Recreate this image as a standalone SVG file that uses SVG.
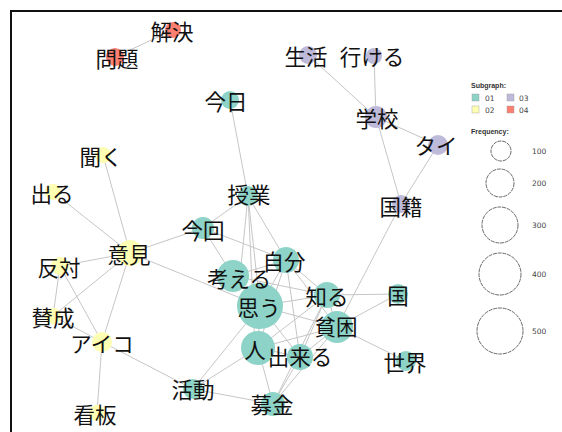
<svg xmlns="http://www.w3.org/2000/svg" width="562" height="432" viewBox="0 0 562 432">
<style>
.e{stroke:#c6c6c6;stroke-width:1;fill:none}
.c1{fill:#8DD3C7}.c2{fill:#FFFFB3}.c3{fill:#BEBADA}.c4{fill:#FB8072}
.t{font-family:"Noto Sans CJK JP","Noto Sans CJK SC",sans-serif;font-size:21.5px;fill:#111;text-anchor:middle;dominant-baseline:central}
.lh{font-family:"Liberation Sans",Arial,sans-serif;font-size:7px;font-weight:bold;fill:#333}
.lt{font-family:"DejaVu Sans",sans-serif;font-size:7.5px;fill:#444}
.lc{fill:none;stroke:#444;stroke-width:0.8;stroke-dasharray:4 0.8}
</style>
<rect x="11" y="11" width="560" height="430" fill="#fff" stroke="#111" stroke-width="2"/>
<g id="edges" class="e">
<line x1="115" y1="57" x2="173" y2="30"/>
<line x1="308" y1="55" x2="376" y2="117"/>
<line x1="374" y1="56" x2="376" y2="117"/>
<line x1="376" y1="117" x2="438" y2="145"/>
<line x1="376" y1="117" x2="401" y2="204"/>
<line x1="438" y1="145" x2="401" y2="204"/>
<line x1="401" y1="204" x2="337" y2="327"/>
<line x1="230" y1="100" x2="248" y2="196"/>
<line x1="248" y1="196" x2="203" y2="228"/>
<line x1="248" y1="196" x2="240" y2="276"/>
<line x1="248" y1="196" x2="260" y2="306"/>
<line x1="248" y1="196" x2="255" y2="348"/>
<line x1="248" y1="196" x2="286" y2="260"/>
<line x1="203" y1="228" x2="233" y2="276"/>
<line x1="203" y1="228" x2="286" y2="260"/>
<line x1="203" y1="228" x2="130" y2="253"/>
<line x1="103" y1="155" x2="130" y2="253"/>
<line x1="53" y1="192" x2="130" y2="253"/>
<line x1="130" y1="253" x2="60" y2="266"/>
<line x1="130" y1="253" x2="53" y2="316"/>
<line x1="130" y1="253" x2="102" y2="342"/>
<line x1="130" y1="253" x2="260" y2="306"/>
<line x1="60" y1="266" x2="53" y2="316"/>
<line x1="60" y1="266" x2="102" y2="342"/>
<line x1="53" y1="316" x2="102" y2="342"/>
<line x1="102" y1="342" x2="97" y2="413"/>
<line x1="102" y1="342" x2="193" y2="389"/>
<line x1="193" y1="389" x2="260" y2="306"/>
<line x1="193" y1="389" x2="258" y2="348"/>
<line x1="193" y1="389" x2="273" y2="404"/>
<line x1="286" y1="260" x2="233" y2="276"/>
<line x1="286" y1="260" x2="260" y2="306"/>
<line x1="286" y1="260" x2="327" y2="295"/>
<line x1="286" y1="260" x2="337" y2="327"/>
<line x1="286" y1="260" x2="258" y2="348"/>
<line x1="286" y1="260" x2="300" y2="357"/>
<line x1="233" y1="276" x2="260" y2="306"/>
<line x1="233" y1="276" x2="327" y2="295"/>
<line x1="260" y1="306" x2="327" y2="295"/>
<line x1="260" y1="306" x2="337" y2="327"/>
<line x1="260" y1="306" x2="258" y2="348"/>
<line x1="260" y1="306" x2="300" y2="357"/>
<line x1="327" y1="295" x2="398" y2="294"/>
<line x1="327" y1="295" x2="337" y2="327"/>
<line x1="327" y1="295" x2="258" y2="348"/>
<line x1="327" y1="295" x2="300" y2="357"/>
<line x1="327" y1="295" x2="273" y2="404"/>
<line x1="337" y1="327" x2="398" y2="294"/>
<line x1="337" y1="327" x2="406" y2="361"/>
<line x1="337" y1="327" x2="258" y2="348"/>
<line x1="337" y1="327" x2="300" y2="357"/>
<line x1="337" y1="327" x2="273" y2="404"/>
<line x1="258" y1="348" x2="300" y2="357"/>
<line x1="258" y1="348" x2="273" y2="404"/>
<line x1="300" y1="357" x2="273" y2="404"/>
</g>
<g id="n-mondai"><circle class="c4" cx="115" cy="57" r="9"/><text class="t" x="117" y="57">問題</text></g>
<g id="n-kaiketsu"><circle class="c4" cx="173" cy="30" r="8"/><text class="t" x="172" y="30">解決</text></g>
<g id="n-seikatsu"><circle class="c3" cx="308" cy="55" r="9"/><text class="t" x="306" y="55">生活</text></g>
<g id="n-ikeru"><circle class="c3" cx="374" cy="56" r="8"/><text class="t" x="372" y="55">行ける</text></g>
<g id="n-gakkou"><circle class="c3" cx="376" cy="117" r="11"/><text class="t" x="377" y="117">学校</text></g>
<g id="n-tai"><circle class="c3" cx="438" cy="145" r="10"/><text class="t" x="436" y="144">タイ</text></g>
<g id="n-kokuseki"><circle class="c3" cx="401" cy="204" r="9"/><text class="t" x="401" y="205">国籍</text></g>
<g id="n-kyou"><circle class="c1" cx="230" cy="100" r="9"/><text class="t" x="226" y="100">今日</text></g>
<g id="n-kiku"><circle class="c2" cx="103" cy="155" r="8"/><text class="t" x="101" y="155">聞く</text></g>
<g id="n-deru"><circle class="c2" cx="53" cy="192" r="8"/><text class="t" x="52" y="192">出る</text></g>
<g id="n-jugyou"><circle class="c1" cx="248" cy="196" r="10"/><text class="t" x="249" y="193">授業</text></g>
<g id="n-konkai"><circle class="c1" cx="203" cy="228" r="11"/><text class="t" x="203" y="229">今回</text></g>
<g id="n-iken"><circle class="c2" cx="130" cy="253" r="13"/><text class="t" x="129" y="253">意見</text></g>
<g id="n-hantai"><circle class="c2" cx="60" cy="266" r="9"/><text class="t" x="59" y="266">反対</text></g>
<g id="n-sansei"><circle class="c2" cx="53" cy="316" r="8"/><text class="t" x="53" y="316">賛成</text></g>
<g id="n-aiko"><circle class="c2" cx="102" cy="342" r="10"/><text class="t" x="102" y="342">アイコ</text></g>
<g id="n-kanban"><circle class="c2" cx="97" cy="413" r="8"/><text class="t" x="95" y="413">看板</text></g>
<g id="n-katsudou"><circle class="c1" cx="193" cy="389" r="10"/><text class="t" x="193" y="388">活動</text></g>
<g id="n-jibun"><circle class="c1" cx="286" cy="260" r="13"/><text class="t" x="284" y="260">自分</text></g>
<g id="n-omou"><circle class="c1" cx="260" cy="306" r="23"/><text class="t" x="259" y="306">思う</text></g>
<g id="n-kangaeru"><circle class="c1" cx="233" cy="276" r="16"/><text class="t" x="239" y="277">考える</text></g>
<g id="n-shiru"><circle class="c1" cx="327" cy="295" r="13"/><text class="t" x="327" y="295">知る</text></g>
<g id="n-hinkon"><circle class="c1" cx="337" cy="327" r="16"/><text class="t" x="336" y="325">貧困</text></g>
<g id="n-kuni"><circle class="c1" cx="398" cy="294" r="10"/><text class="t" x="398" y="294">国</text></g>
<g id="n-sekai"><circle class="c1" cx="406" cy="361" r="10"/><text class="t" x="405" y="361">世界</text></g>
<g id="n-hito"><circle class="c1" cx="258" cy="348" r="17"/><text class="t" x="255" y="348">人</text></g>
<g id="n-dekiru"><circle class="c1" cx="300" cy="357" r="13"/><text class="t" x="300" y="355">出来る</text></g>
<g id="n-bokin"><circle class="c1" cx="273" cy="404" r="12"/><text class="t" x="272" y="403">募金</text></g>
<g id="legend">
<text class="lh" x="471" y="88">Subgraph:</text>
<rect class="c1" x="472" y="94" width="7" height="7" stroke="#999" stroke-width="0.4"/><text class="lt" x="485" y="100.5">01</text>
<rect class="c3" x="507" y="94" width="7" height="7" stroke="#999" stroke-width="0.4"/><text class="lt" x="519" y="100.5">03</text>
<rect class="c2" x="472" y="106" width="7" height="7" stroke="#999" stroke-width="0.4"/><text class="lt" x="485" y="112.5">02</text>
<rect class="c4" x="507" y="106" width="7" height="7" stroke="#999" stroke-width="0.4"/><text class="lt" x="519" y="112.5">04</text>
<text class="lh" x="471" y="134">Frequency:</text>
<circle class="lc" cx="501" cy="151" r="10"/><text class="lt" x="532" y="154">100</text>
<circle class="lc" cx="500" cy="183" r="14"/><text class="lt" x="532" y="186">200</text>
<circle class="lc" cx="500" cy="225" r="18"/><text class="lt" x="532" y="228">300</text>
<circle class="lc" cx="500" cy="274" r="21"/><text class="lt" x="532" y="277">400</text>
<circle class="lc" cx="500" cy="331" r="23"/><text class="lt" x="532" y="334">500</text>
</g>
</svg>
